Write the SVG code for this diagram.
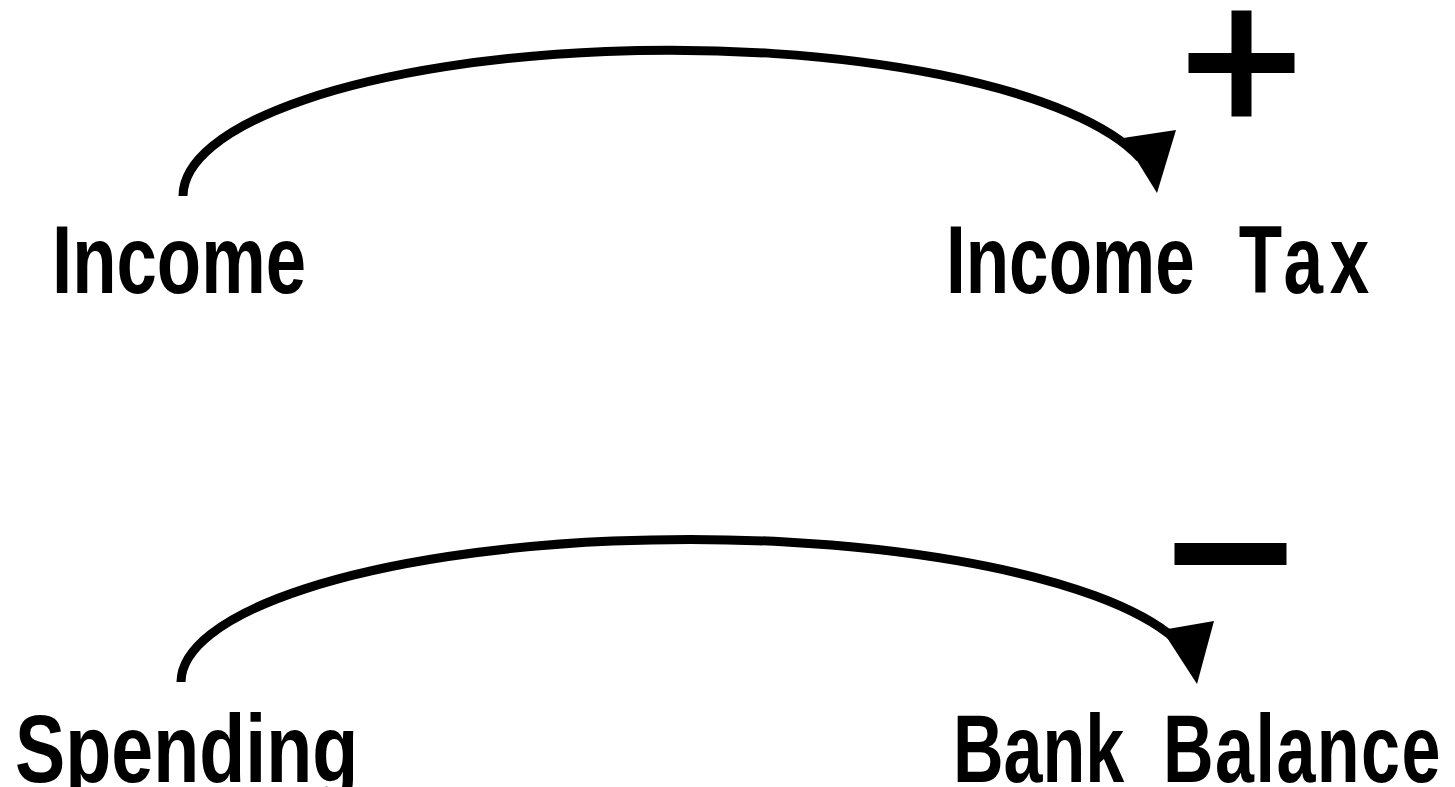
<svg xmlns="http://www.w3.org/2000/svg" width="1455" height="787" viewBox="0 0 1455 787">
  <style>
    .lbl { font-family: "Liberation Sans", Arial, sans-serif; font-weight: bold; font-size: 96px; fill: #000; }
    .link { fill: none; stroke: #000; stroke-width: 9; }
    .head { fill: #000; }
    .sign { fill: #000; }
  </style>
  <rect width="1455" height="787" fill="#fff"/>
  <g id="connectors">
    <path class="link" d="M183,196 A487,146 0 0 1 1140,158"/>
    <polygon class="head" points="1123,138 1176,130 1157,193"/>
    <path class="link" d="M181,682 A509,143 0 0 1 1175,639"/>
    <polygon class="head" points="1162,630 1214,621 1197,684"/>
  </g>
  <g id="sign-plus">
    <rect class="sign" x="1231.5" y="10.5" width="20" height="106"/>
    <rect class="sign" x="1188.5" y="53" width="106" height="20"/>
  </g>
  <g id="sign-minus">
    <rect class="sign" x="1174.5" y="543" width="112" height="22"/>
  </g>
  <g id="node-income">
    <text class="lbl" transform="translate(52,293) scale(0.756,1)">Income</text>
  </g>
  <g id="node-income-tax">
    <text class="lbl" transform="translate(946,293) scale(0.74,1)"><tspan x="0">Income</tspan><tspan x="360" letter-spacing="9"> Tax</tspan></text>
  </g>
  <g id="node-spending">
    <text class="lbl" transform="translate(15,782) scale(0.785,1)">Spending</text>
  </g>
  <g id="node-bank-balance">
    <text class="lbl" transform="translate(953,782) scale(0.73,1)"><tspan x="0">Bank</tspan><tspan x="259" letter-spacing="2"> Balance</tspan></text>
  </g>
</svg>
